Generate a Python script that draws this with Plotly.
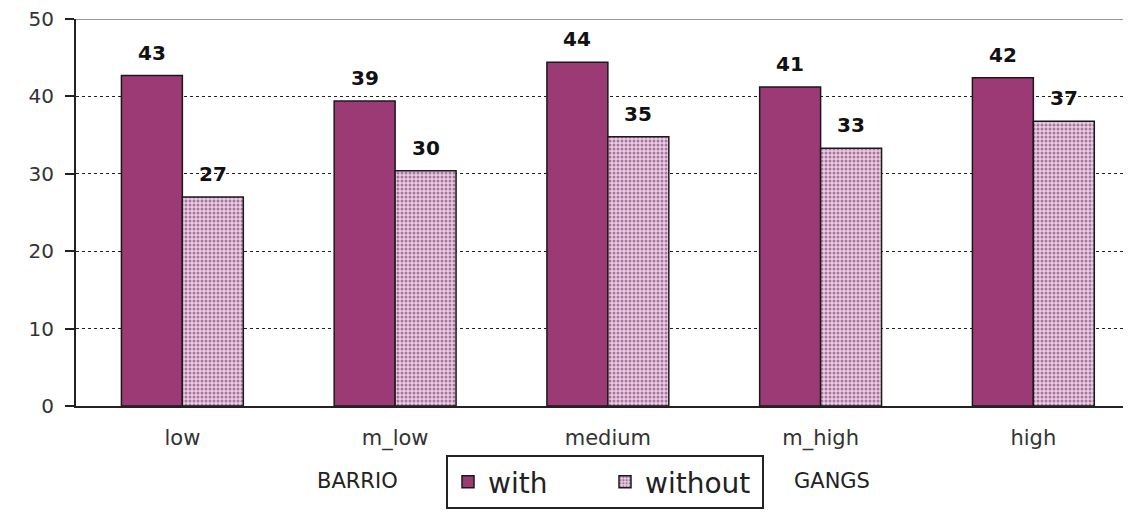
import plotly.graph_objects as go

categories = ["low", "m_low", "medium", "m_high", "high"]
with_vals = [42.7, 39.4, 44.4, 41.2, 42.4]
without_vals = [27.0, 30.4, 34.8, 33.3, 36.8]
y_ticks = [0, 10, 20, 30, 40, 50]

FONT = "DejaVu Sans"
WITH_COLOR = "#9b3a74"

# the page body adds an 8px offset; figure is sized to fill the rest of the window
OFF = 8
W, H = 1131 - OFF, 514 - OFF
ML, MR, MT, MB = 76 - OFF, 0, 19 - OFF, 108
PW, PH = W - ML - MR, H - MT - MB


def sx(px):
    return px - OFF


fig = go.Figure()
fig.add_trace(go.Bar(
    x=categories, y=with_vals, name="with",
    marker=dict(color=WITH_COLOR, line=dict(color="#1a1a1a", width=1.5)),
))
fig.add_trace(go.Bar(
    x=categories, y=without_vals, name="without",
    marker=dict(color="#ecccE4", line=dict(color="#1a1a1a", width=1.5),
                pattern=dict(shape=".", fgcolor="#5e2252", size=4, solidity=0.45)),
))

annotations = []
for i, c in enumerate(categories):
    for vals, sh in ((with_vals, -30.5), (without_vals, 30.5)):
        annotations.append(dict(
            x=c, y=vals[i], xref="x", yref="y", text=str(round(vals[i])),
            showarrow=False, xshift=sh, yshift=23, yanchor="middle",
            font=dict(family=FONT, size=20, color="#111111", weight="bold"),
        ))

for label, px in (("BARRIO", 357), ("GANGS", 832)):
    annotations.append(dict(
        x=(sx(px) - ML) / PW, y=(H - MB - sx(481)) / PH, xref="paper", yref="paper",
        text=label, showarrow=False, xanchor="center", yanchor="middle",
        font=dict(family=FONT, size=21, color="#222222")))

fig.update_layout(
    width=W, height=H,
    margin=dict(l=ML, r=MR, t=MT, b=MB, autoexpand=False),
    paper_bgcolor="white", plot_bgcolor="white",
    barmode="group", bargap=0.427, bargroupgap=0,
    font=dict(family=FONT, size=20, color="#333333"),
    xaxis=dict(range=[-0.5, 4.459], showline=True, linecolor="#222222", linewidth=2,
               ticks="", showgrid=False, tickfont=dict(size=21, color="#333333"),
               ticklabelstandoff=12, automargin=False, ticklabeloverflow="allow"),
    yaxis=dict(range=[0, 50], tickvals=y_ticks, showline=True, linecolor="#222222",
               linewidth=2, ticks="outside", ticklen=9, tickcolor="#222222", tickwidth=2,
               showgrid=True, gridcolor="#222222", griddash="dot", gridwidth=1,
               zeroline=False, tickfont=dict(size=20, color="#333333"), automargin=False,
               ticklabeloverflow="allow", ticklabelstandoff=7),
    legend=dict(orientation="h", xref="container", yref="container",
                x=sx(446) / W, y=1 - sx(455) / H, xanchor="left", yanchor="top",
                bordercolor="#222222", borderwidth=2, bgcolor="white",
                font=dict(family=FONT, size=28, color="#222222"),
                entrywidth=112, itemwidth=30),
    annotations=annotations,
    shapes=[dict(type="line", xref="paper", yref="y", x0=0, x1=1, y0=50, y1=50,
                 line=dict(color="#999999", width=2))],
)

fig.write_html("out.html")
